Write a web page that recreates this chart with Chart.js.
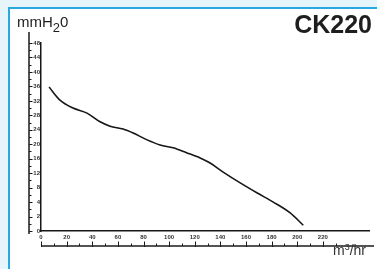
<!DOCTYPE html>
<html>
<head>
<meta charset="utf-8">
<script src="https://cdn.jsdelivr.net/npm/chart.js@4.4.1/dist/chart.umd.min.js"></script>
<style>
  html, body { margin: 0; padding: 0; }
  body {
    width: 377px; height: 269px; position: relative; overflow: hidden;
    background: #e6f4fc;
    font-family: "Liberation Sans", Arial, sans-serif;
  }
  #panel {
    position: absolute; left: 8px; top: 7px; width: 380px; height: 270px;
    background: #fff; border: 2px solid #2aa9e0;
  }
  #chart { position: absolute; left: 0; top: 0; }
  .t { position: absolute; line-height: 1; color: #1e1e1e; white-space: nowrap; }
  #yunit { left: 17px; top: 14px; font-size: 15px; }
  #yunit sub { font-size: 13px; vertical-align: -5px; line-height: 0; }
  #model { right: 5px; top: 12px; font-size: 25px; font-weight: bold; }
  #xunit { left: 333px; top: 243px; font-size: 14px; color: #333; }
  #xunit sup { font-size: 9px; vertical-align: 5px; line-height: 0; }
</style>
</head>
<body>
<div id="panel"></div>
<canvas id="chart" width="377" height="269"></canvas>
<div class="t" id="yunit">mmH<sub>2</sub>0</div>
<div class="t" id="model">CK220</div>
<div class="t" id="xunit">m<sup>3</sup>/hr</div>

<script>
// ─── Data ───────────────────────────────────
const flow     = [6.3, 14.8, 25, 35.9, 46.1, 53.9, 64.1, 71.9, 82.8, 93, 103.1, 114, 124.2, 132, 142.2, 155.5, 168.8, 181.3, 194.5, 204.7];
const pressure = [35.8, 32.2, 30.0, 28.6, 26.2, 25.0, 24.2, 23.1, 21.2, 19.8, 19.0, 17.6, 16.2, 14.8, 12.3, 9.3, 6.5, 4.0, 2.5, 0.8];

// the printed y ruler is evenly spaced but not evenly numbered
const yTickLabels = [0, 2, 4, 8, 12, 16, 20, 24, 28, 32, 36, 40, 44, 48];
const xTickLabels = [0, 20, 40, 60, 80, 100, 120, 140, 160, 180, 200, 220];

// mmH2O -> position on the uneven ruler (index of the tick labels)
function toRuler(v) {
  for (let i = 0; i < yTickLabels.length - 1; i++) {
    const a = yTickLabels[i], b = yTickLabels[i + 1];
    if (v <= b) return i + (v - a) / (b - a);
  }
  return yTickLabels.length - 1;
}

const tickFont = { family: "'Liberation Sans', Arial, sans-serif", size: 6, weight: "bold" };

// ─── Extra rulers drawn along the scales ───
const rulers = {
  id: "rulers",
  afterDraw(chart) {
    const { ctx, chartArea: ca, scales: { x, y } } = chart;
    ctx.save();
    ctx.strokeStyle = "#1a1a1a";
    ctx.lineWidth = 1.5;

    // left ruler with half-step marks
    const rx = 29;
    ctx.beginPath();
    ctx.moveTo(rx, ca.top - 11);
    ctx.lineTo(rx, ca.bottom + 3);
    ctx.stroke();
    ctx.lineWidth = 1;
    for (let i = 0; i <= (yTickLabels.length - 1) * 2; i++) {
      const py = Math.round(y.getPixelForValue(i / 2)) + 0.5;
      ctx.beginPath();
      ctx.moveTo(rx, py);
      ctx.lineTo(rx + (i % 2 ? 2.5 : 3.5), py);
      ctx.stroke();
    }

    // bottom ruler
    const ry = ca.bottom + 15;
    ctx.lineWidth = 1.5;
    ctx.beginPath();
    ctx.moveTo(ca.left, ry);
    ctx.lineTo(374, ry);
    ctx.stroke();
    ctx.lineWidth = 1;
    for (let v = 0; v <= 230; v += 10) {
      const px = Math.round(x.getPixelForValue(v)) + 0.5;
      const major = v % 20 === 0;
      ctx.beginPath();
      ctx.moveTo(px, ry + (major ? 1 : 0));
      ctx.lineTo(px, ry - (major ? 4.5 : 2.5));
      ctx.stroke();
    }
    ctx.restore();
  },
};

// ─── Chart ─────────────────────────────────
new Chart(document.getElementById("chart"), {
  type: "line",
  data: {
    datasets: [{
      data: flow.map((f, i) => ({ x: f, y: toRuler(pressure[i]) })),
      borderColor: "#161616",
      borderWidth: 1.6,
      pointRadius: 0,
      cubicInterpolationMode: "monotone",
      fill: false,
    }],
  },
  options: {
    responsive: false,
    animation: false,
    devicePixelRatio: 1,
    layout: { padding: { top: 43, right: 8, left: 0, bottom: 0 } },
    plugins: { legend: { display: false }, tooltip: { enabled: false } },
    scales: {
      x: {
        type: "linear", min: 0, max: 256,
        afterBuildTicks: s => { s.ticks = xTickLabels.map(v => ({ value: v })); },
        afterFit: s => { s.height = 38; },
        grid: { display: false, drawTicks: false },
        border: { color: "#161616", width: 1.5 },
        ticks: { font: tickFont, color: "#333", padding: 3, maxRotation: 0, autoSkip: false },
      },
      y: {
        type: "linear", min: 0, max: yTickLabels.length - 1,
        afterBuildTicks: s => { s.ticks = yTickLabels.map((_, i) => ({ value: i })); },
        afterFit: s => { s.width = 41; },
        grid: { display: false, drawTicks: false },
        border: { color: "#161616", width: 1.5 },
        ticks: { font: tickFont, color: "#333", padding: 1, autoSkip: false,
                 callback: v => yTickLabels[v] },
      },
    },
  },
  plugins: [rulers],
});
</script>
</body>
</html>
